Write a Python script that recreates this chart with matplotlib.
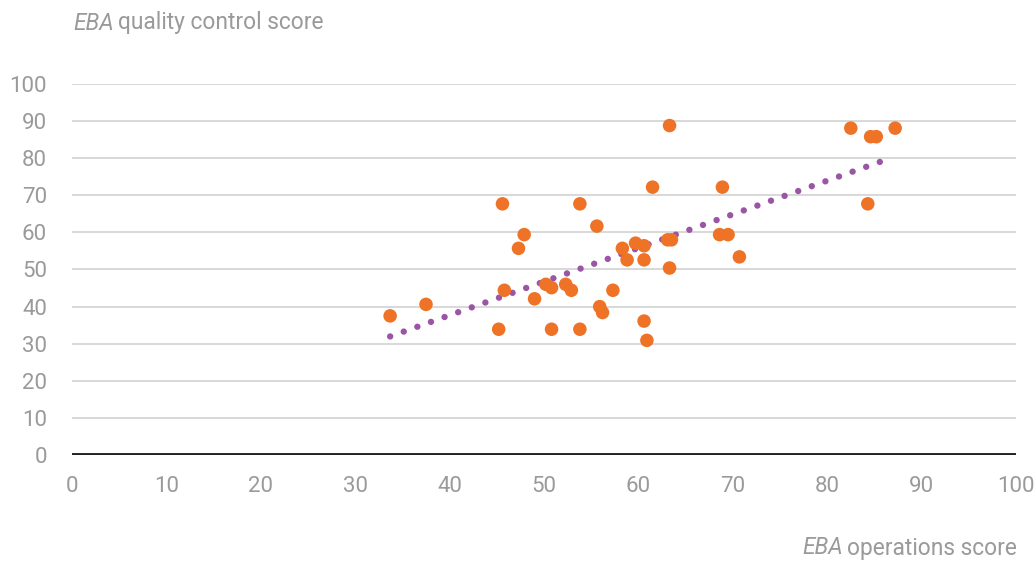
import numpy as np
import matplotlib
matplotlib.use("Agg")
import matplotlib.pyplot as plt

plt.rcParams['font.family'] = ['Roboto', 'DejaVu Sans']

# EBA operations score (x) vs EBA quality control score (y)
ops_score = [33.7, 37.5, 45.6, 45.2, 47.9, 47.3, 45.8, 49.0, 50.2, 50.8,
             50.8, 53.8, 52.3, 52.9, 53.8, 55.6, 55.9, 56.2, 57.3, 58.3,
             58.8, 59.7, 60.6, 60.6, 60.6, 60.9, 61.5, 63.3, 63.1, 63.5,
             63.3, 68.6, 69.5, 68.9, 70.7, 82.5, 84.6, 85.2, 87.2, 84.3]
qc_score = [37.5, 40.6, 67.7, 33.9, 59.4, 55.7, 44.4, 42.1, 46.0, 45.1,
            33.9, 67.7, 46.0, 44.4, 33.9, 61.7, 40.0, 38.4, 44.4, 55.7,
            52.6, 57.1, 56.4, 52.6, 36.1, 30.9, 72.2, 88.8, 58.0, 58.0,
            50.4, 59.4, 59.4, 72.2, 53.4, 88.1, 85.8, 85.8, 88.1, 67.7]
ticks = list(range(0, 101, 10))

grey = '#9a9a9a'
orange = '#ee7326'
purple = '#9b55a5'
W, H = 1036, 561

fig = plt.figure(figsize=(W / 100, H / 100), dpi=100)
ax = fig.add_axes([72 / W, 1 - 455 / H, 944 / W, 371 / H])

x = np.array(ops_score)
y = np.array(qc_score)

# linear trend line over data range
coef = np.polyfit(x, y, 1)
tx = np.array([x.min(), x.max() - 1])
ax.plot(tx, np.polyval(coef, tx), color=purple, lw=4.6, linestyle=(0, (0.01, 2.25)),
        dash_capstyle='round', zorder=3)

ax.scatter(x, y, s=95, color=orange, edgecolors='none', zorder=4)

ax.set_xlim(0, 100)
ax.set_ylim(0, 100)
ax.set_xticks(ticks)
ax.set_yticks(ticks)
ax.tick_params(length=0, labelsize=16, labelcolor=grey)
ax.tick_params(axis='x', pad=15)
ax.tick_params(axis='y', pad=18)
ax.grid(axis='y', color='#d2d2d2', lw=1.2)
ax.set_axisbelow(True)
for s in ax.spines.values():
    s.set_visible(False)
ax.axhline(0, color='#222222', lw=2.8, zorder=2)

# axis titles: italic "EBA" followed by regular text
t1 = fig.text(73 / W, 1 - 23 / H, 'EBA', fontsize=16.4, color=grey, va='center',
              style='italic')
fig.canvas.draw()
bb = t1.get_window_extent()
fig.text((bb.x1 + 4) / W, 1 - 23 / H, 'quality control score', fontsize=16.4,
         color=grey, va='center')

t2 = fig.text(1017 / W, 1 - 548 / H, 'operations score', fontsize=16.4, color=grey,
              va='center', ha='right')
fig.canvas.draw()
bb2 = t2.get_window_extent()
fig.text((bb2.x0 - 4) / W, 1 - 548 / H, 'EBA', fontsize=16.4, color=grey,
         va='center', ha='right', style='italic')

fig.savefig('out.png', dpi=100)
